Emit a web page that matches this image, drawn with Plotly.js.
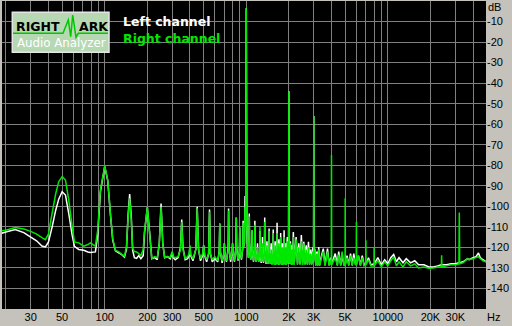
<!DOCTYPE html>
<html><head><meta charset="utf-8">
<script src="https://cdn.plot.ly/plotly-3.0.1.min.js"></script>
<style>html,body{margin:0;padding:0;background:#c4c2bb;}#g{width:512px;height:326px;}</style>
</head><body><div id="g"></div>
<script>
// ---- data ----
const freq = [
  // low region
  18.5, 20, 23.3, 26.8, 30, 33, 36, 38.1, 40, 42.5,
  45, 47.3, 50, 52.8, 55.7, 58.9, 61.1, 65.5, 71.1, 76,
  79.2, 85.9, 89.2, 93.2, 100, 105, 109.7, 113.9, 119, 125.6,
  132, 137.8, 142.4,
  // 146 - 990
  146, 150, 154, 157.5, 162, 168, 174, 180, 187, 191,
  200, 209, 215, 225, 235, 243, 250, 257, 265, 278,
  290, 296, 300, 305, 315, 330, 343, 350, 357, 370,
  385, 395, 400, 405, 420, 440, 450, 460, 475, 492,
  500, 508, 525, 542, 550, 558, 575, 592, 600, 608,
  628, 644, 650, 656, 675, 694, 700, 706, 725, 745,
  750, 755, 775, 794, 800, 806, 825, 845, 850, 855,
  875, 894, 900, 906, 925, 945, 950, 955, 970, 980,
  990,
  // 1000 - 4015
  1000, 1010, 1020, 1035, 1045, 1050, 1055, 1075, 1095, 1100,
  1105, 1125, 1145, 1150, 1155, 1175, 1195, 1200, 1205, 1225,
  1245, 1250, 1255, 1275, 1295, 1300, 1305, 1325, 1345, 1350,
  1355, 1380, 1400, 1420, 1445, 1450, 1455, 1480, 1500, 1520,
  1545, 1550, 1555, 1580, 1600, 1620, 1645, 1650, 1655, 1680,
  1700, 1720, 1745, 1750, 1755, 1780, 1800, 1820, 1845, 1850,
  1855, 1880, 1900, 1920, 1950, 1980, 1990, 2000, 2010, 2030,
  2050, 2080, 2100, 2125, 2150, 2180, 2250, 2300, 2350, 2400,
  2450, 2500, 2550, 2600, 2650, 2700, 2750, 2800, 2850, 2900,
  2950, 2980, 2990, 3000, 3010, 3050, 3100, 3150, 3200, 3250,
  3300, 3400, 3500, 3600, 3750, 3850, 3950, 3985, 4000, 4015,
  // 4250 - 49500
  4250, 4400, 4500, 4650, 4750, 4900, 4985, 5000, 5015, 5150,
  5300, 5450, 5600, 5750, 5900, 5985, 6000, 6015, 6200, 6400,
  6600, 6800, 6985, 7000, 7015, 7300, 7600, 7985, 8000, 8015,
  8500, 9000, 9500, 10000, 10500, 11000, 11500, 12000, 12800, 13500,
  14500, 15500, 16500, 18000, 19500, 21000, 22500, 23900, 24000, 24100,
  26000, 28000, 30000, 31800, 32000, 32200, 34000, 36600, 37500, 40000,
  42000, 43700, 45000, 47000, 49500
];
const leftDb = [
  -113.2, -112.5, -111.3, -112.8, -115.0, -116.8, -119.3, -119.8, -117.5, -110,
  -102, -96.5, -92.9, -94.5, -103.5, -114.1, -119.5, -121.0, -121.4, -122.2,
  -122.5, -122.2, -114, -93, -80.6, -87.5, -104, -116.5, -121.7, -122.7,
  -123.5, -124.7, -121,
  -105, -94.0, -105, -121.4, -125, -125.3, -124, -125.5, -124, -113,
  -100.5, -115, -125.5, -125, -126, -118, -98.6, -118, -125, -124.5,
  -125.5, -124, -122.5, -125, -126, -125, -120, -106.4, -120, -126,
  -125.5, -124, -119.5, -124, -126.5, -121, -100.2, -121, -126.5, -124,
  -119, -124, -127, -123, -101.5, -123, -127, -126, -124.7, -126,
  -127, -122, -108.4, -122, -127.5, -123, -118, -123, -127, -120,
  -101, -120, -127, -122, -118, -122, -127, -120, -105.4, -120,
  -126.5, -122, -110.3, -122, -126, -120, -107, -120, -118, -95,
  -110,
  -3.5, -110, -118, -125, -118, -103.5, -118, -126, -122, -111.6,
  -122, -127, -120, -107, -120, -127, -123, -118, -123, -127,
  -123, -112, -123, -127.5, -124, -115, -124, -127.5, -120, -105.4,
  -120, -128, -117, -128, -122, -110.8, -122, -128, -118, -128,
  -122, -111.3, -122, -128, -117, -128, -121, -108, -121, -128,
  -116, -128, -122, -113, -122, -128, -118, -128, -122, -111.6,
  -122, -128, -118, -128, -115, -128, -120, -44, -120, -128,
  -117, -128, -119, -128, -112.5, -128, -115, -128, -118, -128,
  -114, -128, -117.3, -128, -119, -128, -117.3, -128, -121, -128,
  -120, -127, -121, -56, -121, -121, -128.5, -122, -128.5, -119.8,
  -128.5, -124, -120.6, -128.5, -120.6, -128.5, -125, -128, -128, -128,
  -123, -128.5, -122, -128.5, -124, -128.5, -128, -128, -128, -124,
  -128.5, -123, -128.5, -123, -128, -128, -128, -128, -124, -128.5,
  -124, -128.5, -128, -128, -128, -125, -128.5, -128, -128, -128,
  -125, -128.5, -126, -128, -125, -123.4, -127, -125, -127.5, -125.5,
  -127.5, -126.5, -128.5, -128.5, -129.5, -129.5, -129, -128.5, -128.5, -128.5,
  -128.5, -128, -128, -127.5, -127.5, -127.5, -127, -125.5, -126, -125,
  -124.5, -122.7, -125, -126, -127
];
const rightDb = [
  -112.0, -111.6, -110.3, -111.0, -112.2, -113.5, -115.2, -116.2, -113.5, -103.3,
  -94, -88, -85.6, -87.2, -97, -110, -117.3, -117.8, -119.4, -118.6,
  -117.8, -119.4, -111.6, -92, -80.4, -87.2, -103.5, -115.7, -121.4, -122.2,
  -123.4, -124.3, -119.8,
  -106, -96.1, -107, -120.5, -122, -122.2, -123, -124, -121, -112,
  -100.5, -116, -125.5, -124.5, -125, -118, -100.2, -118, -125, -124.5,
  -125, -123, -122, -124.5, -125, -124.5, -121, -107.6, -121, -125.5,
  -124.5, -123, -119, -123.5, -125.5, -121, -101, -121, -125.5, -123,
  -119, -123.5, -126, -123, -102.7, -123, -126, -125, -124.7, -125,
  -126.5, -122, -108.4, -122, -126.5, -123, -118, -123, -126.5, -121,
  -102, -121, -126, -122, -118, -122, -126.5, -121, -105.4, -121,
  -126, -122, -110.3, -122, -125.5, -120, -108, -120, -118, -100,
  -110,
  -3.5, -110, -118, -125, -118, -105, -118, -126, -122, -111.6,
  -122, -126.5, -121, -109, -121, -127, -123, -120, -123, -127,
  -122, -110, -122, -127, -124, -118, -124, -127, -121, -107.6,
  -121, -127.5, -119, -128, -123, -112, -123, -128, -121, -128.5,
  -124, -113, -124, -128.5, -119, -128.5, -124, -113, -124, -128.5,
  -118, -128.5, -123, -114.9, -123, -128.5, -120, -128.5, -124, -115,
  -124, -128.5, -120, -128.5, -117, -128, -120, -44, -120, -128,
  -118, -128.5, -121, -128.5, -115, -128.5, -116, -128.5, -120, -128.5,
  -117, -128.5, -118, -128.5, -121, -128.5, -120, -128.5, -123, -128.5,
  -122, -127, -121, -56, -121, -122, -129, -123, -129, -121,
  -129, -125, -122, -129, -122, -129, -126, -128.5, -75, -128.5,
  -125, -129, -123.5, -129, -122, -129, -128.5, -96.1, -128.5, -125,
  -129, -124, -129, -125, -128.5, -128.5, -107.6, -128.5, -124, -129,
  -125, -129, -128.5, -116.5, -128.5, -126, -129, -129, -119.8, -129,
  -126.5, -129.5, -127, -129, -126.5, -124.7, -129, -127, -129.5, -127,
  -129, -128, -130, -129.5, -130.2, -130, -129.5, -129.5, -123.8, -129.5,
  -129, -128.5, -128.5, -128, -103, -128, -127.5, -125.5, -126, -125.5,
  -125, -124.5, -125.5, -126.5, -127
];
const xTickVals = [30, 50, 100, 200, 300, 500, 1000, 2000, 3000, 5000, 10000, 20000, 30000];
const xTickText = ['30', '50', '100', '200', '300', '500', '1000', '2K', '3K', '5K', '10000', '20K', '30K'];
const xGridVals = [20, 30, 40, 50, 60, 70, 80, 90, 100, 200, 300, 400, 500, 600, 700, 800, 900,
  1000, 2000, 3000, 4000, 5000, 6000, 7000, 8000, 9000, 10000, 20000, 30000, 40000];
const yTickVals = [-140, -130, -120, -110, -100, -90, -80, -70, -60, -50, -40, -30, -20, -10];
const yTickText = ['-140', '-130', '-120', '-110', '-100', '-90', '-80', '-70', '-60', '-50', '-40', '-30', '-20', '-10'];
const seriesNames = ['Left channel', 'Right channel'];

// ---- layout helpers (pixel -> paper) ----
const L0 = 2, T0 = 1, PW = 484, PH = 308;
const px = x => (x - L0) / PW;
const py = y => 1 - (y - T0) / PH;

const GREEN = 'rgb(0,232,0)';
const GRID = '#808080';

if (freq.length !== leftDb.length || freq.length !== rightDb.length) {
  document.body.insertAdjacentHTML('afterbegin', '<p>LEN ' + freq.length + ' ' + leftDb.length + ' ' + rightDb.length + '</p>');
}

const traces = [
  {x: freq, y: leftDb, name: seriesNames[0], type: 'scatter', mode: 'lines',
   line: {color: '#ffffff', width: 1.5, simplify: false}},
  {x: freq, y: rightDb, name: seriesNames[1], type: 'scatter', mode: 'lines',
   line: {color: GREEN, width: 1.5, simplify: false}}
];

const wave = [[13, 33.3], [63, 33.3], [68.3, 20], [70.7, 36.7], [72.7, 15], [76, 37.3], [78.3, 33.3], [108, 33.3]];
const wavePath = wave.map((p, i) => (i ? 'L' : 'M') + px(p[0]) + ',' + py(p[1])).join(' ');

const tickFont = {family: 'Liberation Sans, Arial, sans-serif', size: 11, color: '#000'};

const layout = {
  width: 512, height: 326,
  margin: {l: L0, r: 512 - L0 - PW, t: T0, b: 326 - T0 - PH, pad: 0},
  paper_bgcolor: '#c4c2bb', plot_bgcolor: '#000000',
  showlegend: false,
  xaxis: {
    type: 'log', range: [Math.log10(18.8), Math.log10(49400)],
    tickmode: 'array', tickvals: xTickVals, ticktext: xTickText,
    showgrid: true, gridcolor: GRID, gridwidth: 1, zeroline: false, showline: false,
    ticks: '', tickfont: tickFont, fixedrange: true,
    minor: {tickmode: 'array', tickvals: xGridVals, showgrid: true, gridcolor: GRID, gridwidth: 1, ticks: ''}
  },
  yaxis: {
    range: [-150, 0], side: 'right',
    tickmode: 'array', tickvals: yTickVals, ticktext: yTickText,
    showgrid: true, gridcolor: GRID, gridwidth: 1, zeroline: false, showline: false,
    ticks: '', tickfont: tickFont, fixedrange: true
  },
  shapes: [
    {type: 'rect', xref: 'paper', yref: 'paper', x0: px(12.3), x1: px(109), y0: py(52.3), y1: py(12.3),
     fillcolor: 'rgb(182,216,178)', line: {color: '#e6e6e6', width: 1.5}},
    {type: 'path', xref: 'paper', yref: 'paper', path: wavePath, line: {color: 'rgb(0,200,0)', width: 1.5}}
  ],
  annotations: [
    {xref: 'paper', yref: 'paper', x: px(14), y: py(26), xanchor: 'left', yanchor: 'middle', showarrow: false,
     text: '<b>RIGHT</b>', font: {family: 'DejaVu Sans', size: 12.5, color: '#000'}},
    {xref: 'paper', yref: 'paper', x: px(77), y: py(26), xanchor: 'left', yanchor: 'middle', showarrow: false,
     text: '<b>ARK</b>', font: {family: 'DejaVu Sans', size: 12.5, color: '#000'}},
    {xref: 'paper', yref: 'paper', x: px(14.5), y: py(43), xanchor: 'left', yanchor: 'middle', showarrow: false,
     text: 'Audio Analyzer', font: {family: 'DejaVu Sans', size: 11.8, color: '#fff'}},
    {xref: 'paper', yref: 'paper', x: px(120.5), y: py(22), xanchor: 'left', yanchor: 'middle', showarrow: false,
     text: '<b>' + seriesNames[0] + '</b>', font: {family: 'DejaVu Sans', size: 12.5, color: '#fff'}},
    {xref: 'paper', yref: 'paper', x: px(120.5), y: py(38.5), xanchor: 'left', yanchor: 'middle', showarrow: false,
     text: '<b>' + seriesNames[1] + '</b>', font: {family: 'DejaVu Sans', size: 12.5, color: GREEN}},
    {xref: 'paper', yref: 'paper', x: px(486), y: py(6.7), xanchor: 'left', yanchor: 'middle', showarrow: false,
     text: 'dB', font: tickFont},
    {xref: 'paper', yref: 'paper', x: px(485), y: py(316.7), xanchor: 'left', yanchor: 'middle', showarrow: false,
     text: 'Hz', font: tickFont}
  ]
};

Plotly.newPlot('g', traces, layout, {displayModeBar: false, staticPlot: true});
</script>
</body></html>
